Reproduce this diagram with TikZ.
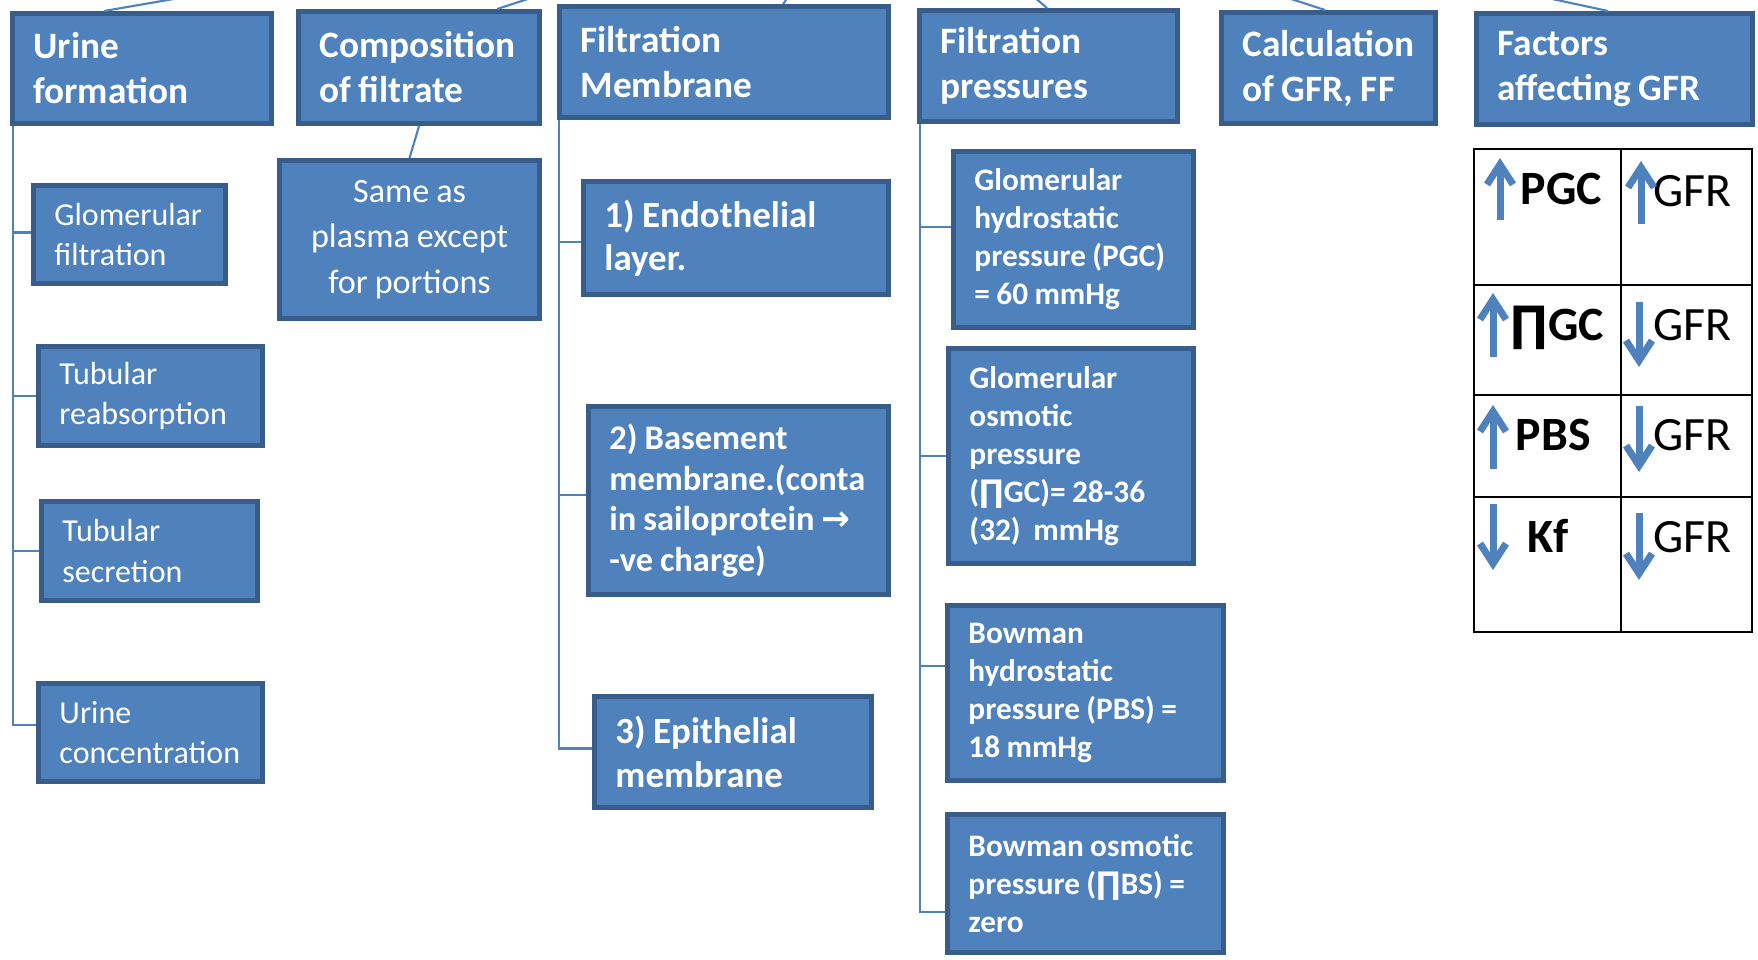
\documentclass[tikz,border=0pt]{standalone}
\usepackage{fontspec}
\setmainfont{Carlito}[WordSpace={0.9,0,0}]
\newfontfamily\symfont{DejaVu Sans}
\usetikzlibrary{calc,arrows.meta}
\definecolor{boxblue}{RGB}{79,129,189}
\definecolor{boxedge}{RGB}{56,93,138}
\tikzset{%
  box/.style   = {shape=rectangle, draw=boxedge, fill=boxblue, line width=1.4pt,%
                  text=white, align=flush left, anchor=north west,%
                  inner xsep=0.21cm, inner ysep=1pt},%
  head/.style  = {box, font=\fontsize{10.6}{12.8}\selectfont\bfseries},%
  leaf/.style  = {box, font=\fontsize{9.1}{11.4}\selectfont},%
  note/.style  = {box, align=flush center, font=\fontsize{9.7}{12.9}\selectfont},%
  layer/.style = {box, font=\fontsize{10.5}{12.3}\selectfont\bfseries},%
  press/.style = {box, font=\fontsize{8.9}{10.8}\selectfont\bfseries},%
  link/.style  = {draw=boxblue, line width=0.6pt},%
  cell/.style  = {anchor=base west, inner sep=0pt, font=\fontsize{13.6}{16}\selectfont},%
  updown/.style = {draw=boxblue, line width=2pt,%
                   -{Straight Barb[length=2mm,width=2.6mm]}}%
}

\begin{document}
\begin{tikzpicture}[x=0.01cm, y=-0.01cm]
	\useasboundingbox (0,0) rectangle (1758,959);
	% headers
	\node[head, text width=2.17cm, minimum height=1.10cm] (uf) at (10,11) {Urine\\formation};
	\node[head, text width=1.99cm, minimum height=1.12cm] (cf) at (296,9) {Composition\\of filtrate};
	\node[head, text width=2.87cm, minimum height=1.11cm] (fm) at (557,4) {Filtration\\Membrane};
	\node[head, text width=2.16cm, minimum height=1.11cm] (fp) at (917,8) {Filtration\\pressures};
	\node[head, text width=1.72cm, minimum height=1.11cm] (cg) at (1219,10) {Calculation\\of GFR, FF};
	\node[head, text width=2.34cm, minimum height=1.11cm] (fa) at (1474,11) {Factors\\affecting GFR};
	% stubs to the parent above the page
	\coordinate (upUF) at (185,-3);
	\coordinate (upCF) at (534,-3);
	\coordinate (upFM) at (788,-3);
	\coordinate (upFP) at (1034,-3);
	\coordinate (upCG) at (1285,-3);
	\coordinate (upFA) at (1543,-3);
	\begin{scope}
		\clip (0,0) rectangle (1758,959);
		\draw[link] ([xshift=0.94cm]uf.north west) -- (upUF);
		\draw[link] ([xshift=2.01cm]cf.north west) -- (upCF);
		\draw[link] ([xshift=2.26cm]fm.north west) -- (upFM);
		\draw[link] ([xshift=1.30cm]fp.north west) -- (upFP);
		\draw[link] ([xshift=1.06cm]cg.north west) -- (upCG);
		\draw[link] ([xshift=1.34cm]fa.north west) -- (upFA);
	\end{scope}
	% urine formation
	\node[leaf, text width=1.50cm, minimum height=0.98cm] (gf) at (31,183) {Glomerular\\filtration};
	\node[leaf, text width=1.82cm, minimum height=0.99cm] (tr) at (36,344) {Tubular\\reabsorption};
	\node[leaf, text width=1.74cm, minimum height=0.99cm] (ts) at (39,499) {Tubular\\secretion};
	\node[leaf, text width=1.82cm, minimum height=0.98cm] (uc) at (36,681) {Urine\\concentration};
	\coordinate (ufT) at ([xshift=0.03cm]uf.south west);
	\foreach \n/\f in {gf/.48, tr/.5, ts/.5, uc/.43}
		\draw[link] (ufT) |- ($(\n.north west)!\f!(\n.south west)$);
	% composition
	\node[note, text width=2.18cm, minimum height=1.58cm] (sp) at (277,158) {Same as\\plasma except\\for portions};
	\draw[link] (cf.south) -- (sp.north);
	% membrane
	\node[layer, text width=2.63cm, minimum height=1.13cm] (el) at (581,179) {1) Endothelial\\layer.};
	\node[layer, text width=2.58cm, minimum height=1.88cm, font=\fontsize{9.8}{11.6}\selectfont\bfseries] (bm) at (586,404)
		{2) Basement\\membrane.(conta\\in sailoprotein {\symfont →}\\-ve charge)};
	\node[layer, text width=2.35cm, minimum height=1.11cm] (em) at (592,694) {3) Epithelial\\membrane};
	\coordinate (fmT) at ([xshift=0.02cm]fm.south west);
	\foreach \n/\f in {el/.53, bm/.47, em/.47}
		\draw[link] (fmT) |- ($(\n.north west)!\f!(\n.south west)$);
	% pressures
	\node[press, text width=1.98cm, minimum height=1.76cm] (gh) at (951,149) {Glomerular\\hydrostatic\\pressure (PGC)\\= 60 mmHg};
	\node[press, text width=2.03cm, minimum height=2.15cm] (go) at (946,346) {Glomerular\\osmotic\\pressure\\({\symfont ∏}GC)= 28-36\\(32)~~mmHg};
	\node[press, text width=2.34cm, minimum height=1.75cm] (bh) at (945,603) {Bowman\\hydrostatic\\pressure (PBS) =\\18 mmHg};
	\node[press, text width=2.34cm, minimum height=1.38cm] (bo) at (945,812) {Bowman osmotic\\pressure ({\symfont ∏}BS) =\\zero};
	\coordinate (fpT) at ([xshift=0.03cm]fp.south west);
	\foreach \n/\f in {gh/.43, go/.5, bh/.35, bo/.70}
		\draw[link] (fpT) |- ($(\n.north west)!\f!(\n.south west)$);
	% factors table
	\draw[line width=0.8pt] (1474,149) rectangle (1752,632);
	\foreach \y in {285,395,497}
		\draw[line width=0.8pt] (1474,\y) -- (1752,\y);
	\draw[line width=0.8pt] (1621,149) -- (1621,632);
	\node[cell, font=\fontsize{13.6}{16}\selectfont\bfseries] (pgc) at (1520,204) {PGC};
	\node[cell, font=\fontsize{13.6}{16}\selectfont\bfseries] (pigc) at (1510,340) {{\symfont ∏}GC};
	\node[cell, font=\fontsize{13.6}{16}\selectfont\bfseries] (pbs) at (1515,450) {PBS};
	\node[cell, font=\fontsize{13.6}{16}\selectfont\bfseries] (kf) at (1527,552) {Kf};
	\node[cell] (gfra) at (1653,206) {GFR};
	\node[cell] (gfrb) at (1653,340) {GFR};
	\node[cell] (gfrc) at (1653,450) {GFR};
	\node[cell] (gfrd) at (1653,552) {GFR};
	\foreach \x/\a/\b in {1500/220/158, 1641/224/161, 1493/357/293, 1639/302/367,%
	                      1493/469/405, 1639/406/472, 1493/504/570, 1639/513/580}
		\draw[updown] (\x,\a) -- (\x,\b);
\end{tikzpicture}
\end{document}
